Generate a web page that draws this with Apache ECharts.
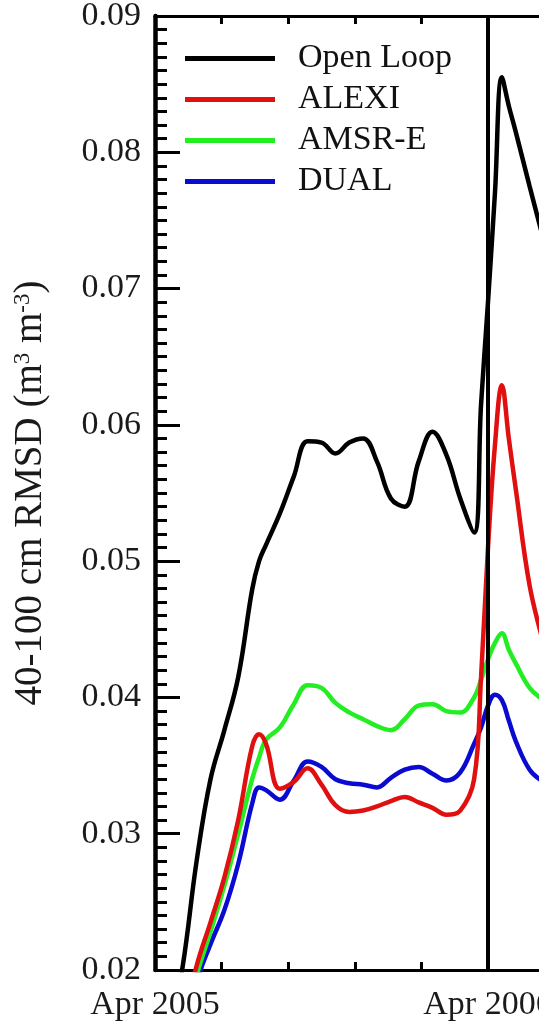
<!DOCTYPE html>
<html>
<head>
<meta charset="utf-8">
<script src="https://cdn.jsdelivr.net/npm/echarts@6/dist/echarts.min.js"></script>
<style>
  html, body { margin: 0; padding: 0; background: #fff; }
  #chart { width: 539px; height: 1028px; }
</style>
</head>
<body>
<div id="chart"></div>
<script>
// months since Apr 2005
var months = [0, 0.5, 1, 1.5, 2, 2.5, 3, 3.5, 3.75, 4, 4.5, 5, 5.5, 6, 6.5, 7, 7.5, 8, 8.5, 9, 9.5, 10, 10.5, 11, 11.5, 11.75, 12, 12.25, 12.5, 12.75, 13, 13.5, 14];

var openLoop = [0.0100, 0.0150, 0.0203, 0.0280, 0.0340, 0.0376, 0.0415, 0.0479, 0.0500, 0.0512, 0.0535, 0.0562, 0.0588, 0.0587, 0.0579, 0.0587, 0.0590, 0.0573, 0.0546, 0.0540, 0.0573, 0.0595, 0.0578, 0.0546, 0.0521, 0.0615, 0.0690, 0.0770, 0.0855, 0.0834, 0.0815, 0.0775, 0.0736];
var alexi = [0.0080, 0.0120, 0.0160, 0.0203, 0.0235, 0.0268, 0.0310, 0.0364, 0.0373, 0.0366, 0.0333, 0.0338, 0.0348, 0.0336, 0.0321, 0.0316, 0.0317, 0.0320, 0.0324, 0.0327, 0.0323, 0.0319, 0.0314, 0.0317, 0.0340, 0.0415, 0.0510, 0.0585, 0.0629, 0.0590, 0.0553, 0.0482, 0.0440];
var amsre = [0.0070, 0.0110, 0.0155, 0.0196, 0.0228, 0.0262, 0.0300, 0.0340, 0.0356, 0.0369, 0.0378, 0.0395, 0.0409, 0.0407, 0.0396, 0.0389, 0.0384, 0.0379, 0.0376, 0.0384, 0.0394, 0.0395, 0.0390, 0.0389, 0.0400, 0.0413, 0.0428, 0.0440, 0.0447, 0.0435, 0.0425, 0.0407, 0.0398];
var dual = [0.0060, 0.0100, 0.0145, 0.0191, 0.0219, 0.0244, 0.0278, 0.0322, 0.0334, 0.0332, 0.0325, 0.0339, 0.0353, 0.0349, 0.0340, 0.0337, 0.0336, 0.0334, 0.0341, 0.0347, 0.0349, 0.0344, 0.0339, 0.0345, 0.0366, 0.0378, 0.0394, 0.0402, 0.0398, 0.0383, 0.0368, 0.0347, 0.0338];

var seriesNames = ['Open Loop', 'ALEXI', 'AMSR-E', 'DUAL'];
var seriesColors = ['#000000', '#e01010', '#22ee22', '#0a0ad0'];
var xTickLabels = ['Apr 2005', 'Apr 2006', 'Apr 2007'];
var markMonth = 12;

var font = 'Liberation Serif';

function pairs(vals) {
  return months.map(function (m, i) { return [m, vals[i]]; });
}

var chart = echarts.init(document.getElementById('chart'));

var allData = [openLoop, alexi, amsre, dual];
var series = allData.map(function (vals, i) {
  var s = {
    name: seriesNames[i],
    type: 'line',
    data: pairs(vals),
    smooth: 0.4,
    showSymbol: false,
    symbol: 'none',
    lineStyle: { color: seriesColors[i], width: 4.5 },
    itemStyle: { color: seriesColors[i] },
    z: 4 - i
  };
  // vertical marker at Apr 2006
  if (i === 0) {
    s.markLine = {
      silent: true,
      symbol: 'none',
      label: { show: false },
      lineStyle: { color: '#000', width: 4, type: 'solid' },
      data: [{ xAxis: markMonth }]
    };
  }
  return s;
});
series.reverse();

chart.setOption({
  animation: false,
  backgroundColor: '#fff',
  grid: { left: 155, top: 16, bottom: 58, width: 666, outerBoundsMode: 'none' },
  legend: {
    orient: 'vertical',
    left: 180,
    top: 33,
    data: seriesNames,
    icon: 'rect',
    itemWidth: 90,
    itemHeight: 5,
    itemGap: 0,
    textStyle: {
      fontFamily: font,
      fontSize: 34,
      color: '#111',
      lineHeight: 41,
      padding: [0, 0, 0, 18]
    }
  },
  xAxis: [{
    type: 'value',
    min: 0,
    max: 24,
    interval: 12,
    axisLine: { lineStyle: { color: '#000', width: 3 } },
    axisTick: { inside: true, length: 8, lineStyle: { width: 3, color: '#000' } },
    minorTick: { show: true, splitNumber: 5, length: 8, lineStyle: { width: 3, color: '#000' } },
    splitLine: { show: false },
    axisLabel: {
      fontFamily: font,
      fontSize: 34,
      color: '#1a1a1a',
      margin: 18,
      formatter: function (v) { return xTickLabels[Math.round(v / 12)] || ''; }
    }
  }, {
    type: 'value',
    position: 'top',
    min: 0,
    max: 24,
    interval: 12,
    axisLine: { lineStyle: { color: '#000', width: 3 } },
    axisTick: { inside: true, length: 8, lineStyle: { width: 3, color: '#000' } },
    minorTick: { show: true, splitNumber: 5, length: 8, lineStyle: { width: 3, color: '#000' } },
    splitLine: { show: false },
    axisLabel: { show: false }
  }],
  yAxis: {
    type: 'value',
    min: 0.02,
    max: 0.09,
    interval: 0.01,
    name: '40-100 cm RMSD (m{sup|3} m{sup|-3})',
    nameLocation: 'middle',
    nameGap: 105,
    nameTextStyle: {
      fontFamily: font,
      fontSize: 39,
      color: '#1a1a1a',
      rich: {
        sup: { fontFamily: font, fontSize: 23, verticalAlign: 'top', color: '#1a1a1a' }
      }
    },
    axisLine: { show: true, lineStyle: { color: '#000', width: 4.5 } },
    axisTick: { inside: true, length: 25, lineStyle: { width: 3, color: '#000' } },
    minorTick: { show: true, splitNumber: 10, length: 12, lineStyle: { width: 3, color: '#000' } },
    splitLine: { show: false },
    axisLabel: {
      fontFamily: font,
      fontSize: 34,
      color: '#1a1a1a',
      margin: 14,
      formatter: function (v) { return v.toFixed(2); }
    }
  },
  series: series
});
</script>
</body>
</html>
